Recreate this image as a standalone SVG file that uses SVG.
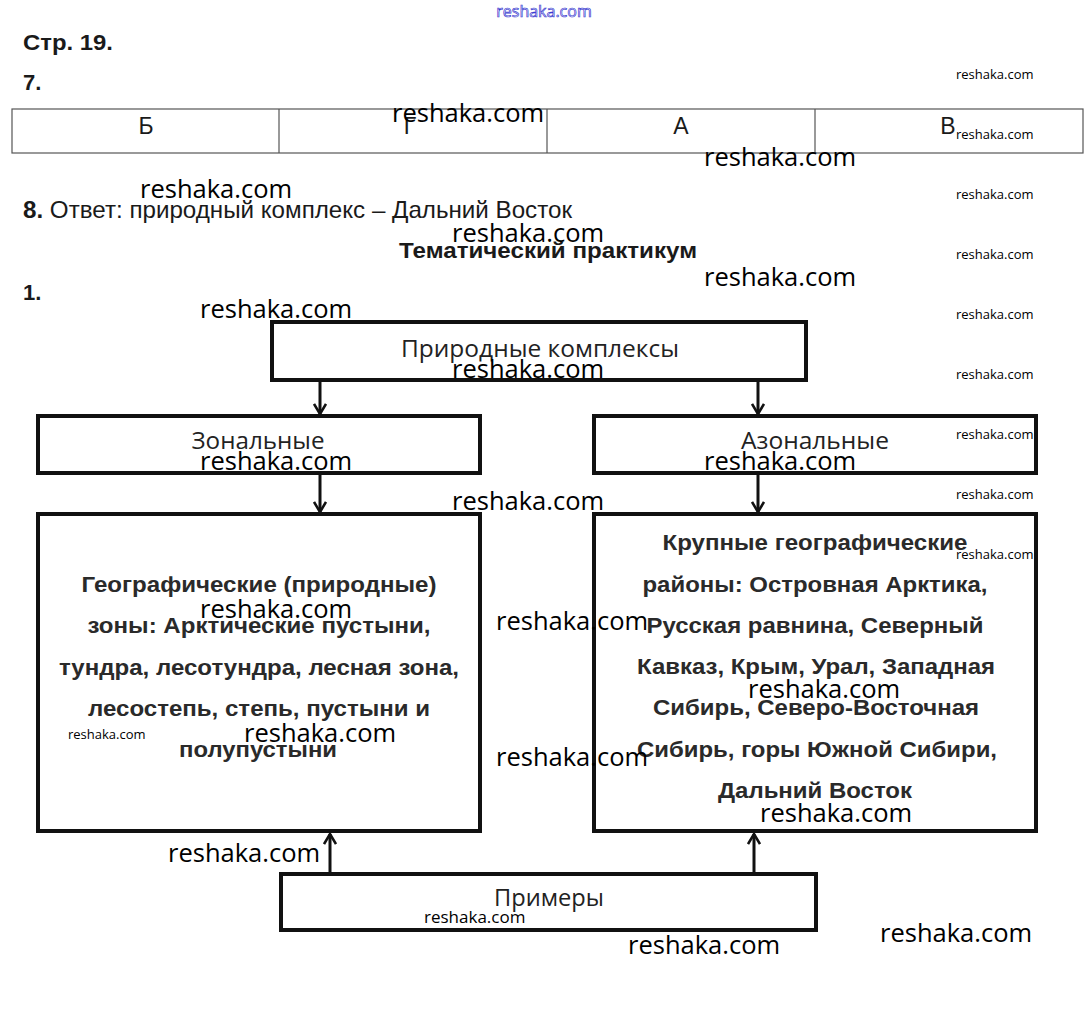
<svg xmlns="http://www.w3.org/2000/svg" width="1086" height="1022" viewBox="0 0 1086 1022">
<style>
.hd{font-family:"Liberation Sans",Arial,sans-serif;fill:#1a1a1a}
.box{fill:#fff;stroke:#111;stroke-width:4}
.lbl{font-family:"Open Sans","Liberation Sans",sans-serif;font-size:23px;fill:#222;text-anchor:middle}
.body{font-family:"Liberation Sans",Arial,sans-serif;font-size:22.5px;font-weight:bold;fill:#2a2a2a;text-anchor:middle}
.wm{font-family:"Open Sans","DejaVu Sans",sans-serif;fill:#000}
.wb{font-size:25.5px}
.ws{font-size:13px}
.conn{stroke:#111;stroke-width:3;fill:none}
.tbl{stroke:#555;stroke-width:1.2;fill:none}
</style>
<defs>
<marker id="arr" viewBox="0 0 12 14" refX="11" refY="7" markerWidth="12" markerHeight="14" markerUnits="userSpaceOnUse" orient="auto">
<path d="M1,1 L11,7 L1,13" fill="none" stroke="#111" stroke-width="2.6"/>
</marker>
</defs>
<rect width="1086" height="1022" fill="#fff"/>

<text x="544" y="17" text-anchor="middle" font-family="Open Sans,sans-serif" font-size="16" fill="#fff" stroke="#3a3ad0" stroke-width="0.7">reshaka.com</text>

<text class="hd" x="23" y="50" font-size="22" font-weight="bold" textLength="90" lengthAdjust="spacingAndGlyphs">Стр. 19.</text>
<text class="hd" x="23" y="90" font-size="22" font-weight="bold">7.</text>

<g id="table">
<rect class="tbl" x="12" y="109" width="1071" height="44"/>
<line class="tbl" x1="279" y1="109" x2="279" y2="153"/>
<line class="tbl" x1="547" y1="109" x2="547" y2="153"/>
<line class="tbl" x1="815" y1="109" x2="815" y2="153"/>
<text class="hd" x="146" y="134" font-size="23" text-anchor="middle">Б</text>
<text class="hd" x="410" y="134" font-size="23" text-anchor="middle">Г</text>
<text class="hd" x="681" y="134" font-size="23" text-anchor="middle">А</text>
<text class="hd" x="948" y="134" font-size="23" text-anchor="middle">В</text>
</g>

<text class="hd" x="23" y="218" font-size="24" textLength="549" lengthAdjust="spacingAndGlyphs"><tspan font-weight="bold">8.</tspan> Ответ: природный комплекс – Дальний Восток</text>
<text class="hd" x="548" y="258" font-size="22" font-weight="bold" text-anchor="middle" textLength="298" lengthAdjust="spacingAndGlyphs">Тематический практикум</text>
<text class="hd" x="23" y="300" font-size="22" font-weight="bold">1.</text>

<g id="connectors">
<line class="conn" x1="320" y1="381" x2="320" y2="414" marker-end="url(#arr)"/>
<line class="conn" x1="758" y1="381" x2="758" y2="414" marker-end="url(#arr)"/>
<line class="conn" x1="320" y1="474" x2="320" y2="512" marker-end="url(#arr)"/>
<line class="conn" x1="758" y1="474" x2="758" y2="512" marker-end="url(#arr)"/>
<line class="conn" x1="330" y1="872" x2="330" y2="834" marker-end="url(#arr)"/>
<line class="conn" x1="754" y1="872" x2="754" y2="834" marker-end="url(#arr)"/>
</g>

<g id="node-complexes">
<rect class="box" x="272" y="322" width="534" height="58"/>
<text class="lbl" x="540" y="357" textLength="278" lengthAdjust="spacingAndGlyphs">Природные комплексы</text>
</g>
<g id="node-zonal">
<rect class="box" x="38" y="416" width="442" height="57"/>
<text class="lbl" x="258" y="449" textLength="133" lengthAdjust="spacingAndGlyphs">Зональные</text>
</g>
<g id="node-azonal">
<rect class="box" x="594" y="416" width="442" height="57"/>
<text class="lbl" x="815" y="449" textLength="148" lengthAdjust="spacingAndGlyphs">Азональные</text>
</g>
<g id="node-zones">
<rect class="box" x="38" y="514" width="442" height="317"/>
<text class="body" x="259" y="592" textLength="355" lengthAdjust="spacingAndGlyphs">Географические (природные)</text>
<text class="body" x="259" y="633" textLength="343" lengthAdjust="spacingAndGlyphs">зоны: Арктические пустыни,</text>
<text class="body" x="259" y="675" textLength="400" lengthAdjust="spacingAndGlyphs">тундра, лесотундра, лесная зона,</text>
<text class="body" x="259" y="716" textLength="342" lengthAdjust="spacingAndGlyphs">лесостепь, степь, пустыни и</text>
<text class="body" x="258" y="757" textLength="158" lengthAdjust="spacingAndGlyphs">полупустыни</text>
</g>
<g id="node-regions">
<rect class="box" x="594" y="514" width="442" height="317"/>
<text class="body" x="815" y="550" textLength="305" lengthAdjust="spacingAndGlyphs">Крупные географические</text>
<text class="body" x="815" y="592" textLength="345" lengthAdjust="spacingAndGlyphs">районы: Островная Арктика,</text>
<text class="body" x="815" y="633" textLength="337" lengthAdjust="spacingAndGlyphs">Русская равнина, Северный</text>
<text class="body" x="816" y="674" textLength="358" lengthAdjust="spacingAndGlyphs">Кавказ, Крым, Урал, Западная</text>
<text class="body" x="816" y="715" textLength="326" lengthAdjust="spacingAndGlyphs">Сибирь, Северо-Восточная</text>
<text class="body" x="817" y="757" textLength="360" lengthAdjust="spacingAndGlyphs">Сибирь, горы Южной Сибири,</text>
<text class="body" x="815" y="798" textLength="194" lengthAdjust="spacingAndGlyphs">Дальний Восток</text>
</g>
<g id="node-examples">
<rect class="box" x="281" y="874" width="535" height="56"/>
<text class="lbl" x="549" y="906" textLength="110" lengthAdjust="spacingAndGlyphs">Примеры</text>
</g>

<g id="watermarks">
<text class="wm wb" x="392" y="122">reshaka.com</text>
<text class="wm wb" x="704" y="166">reshaka.com</text>
<text class="wm wb" x="140" y="198">reshaka.com</text>
<text class="wm wb" x="452" y="242">reshaka.com</text>
<text class="wm wb" x="704" y="286">reshaka.com</text>
<text class="wm wb" x="200" y="318">reshaka.com</text>
<text class="wm wb" x="452" y="378">reshaka.com</text>
<text class="wm wb" x="200" y="470">reshaka.com</text>
<text class="wm wb" x="704" y="470">reshaka.com</text>
<text class="wm wb" x="452" y="510">reshaka.com</text>
<text class="wm wb" x="200" y="618">reshaka.com</text>
<text class="wm wb" x="496" y="630">reshaka.com</text>
<text class="wm wb" x="748" y="698">reshaka.com</text>
<text class="wm wb" x="244" y="742">reshaka.com</text>
<text class="wm wb" x="496" y="766">reshaka.com</text>
<text class="wm wb" x="760" y="822">reshaka.com</text>
<text class="wm wb" x="168" y="862">reshaka.com</text>
<text class="wm wb" x="628" y="954">reshaka.com</text>
<text class="wm wb" x="880" y="942">reshaka.com</text>
<text class="wm ws" x="956" y="79">reshaka.com</text>
<text class="wm ws" x="956" y="139">reshaka.com</text>
<text class="wm ws" x="956" y="199">reshaka.com</text>
<text class="wm ws" x="956" y="259">reshaka.com</text>
<text class="wm ws" x="956" y="319">reshaka.com</text>
<text class="wm ws" x="956" y="379">reshaka.com</text>
<text class="wm ws" x="956" y="439">reshaka.com</text>
<text class="wm ws" x="956" y="499">reshaka.com</text>
<text class="wm ws" x="956" y="559">reshaka.com</text>
<text class="wm ws" x="68" y="739">reshaka.com</text>
<text class="wm" x="424" y="923" font-size="17">reshaka.com</text>
</g>
</svg>
